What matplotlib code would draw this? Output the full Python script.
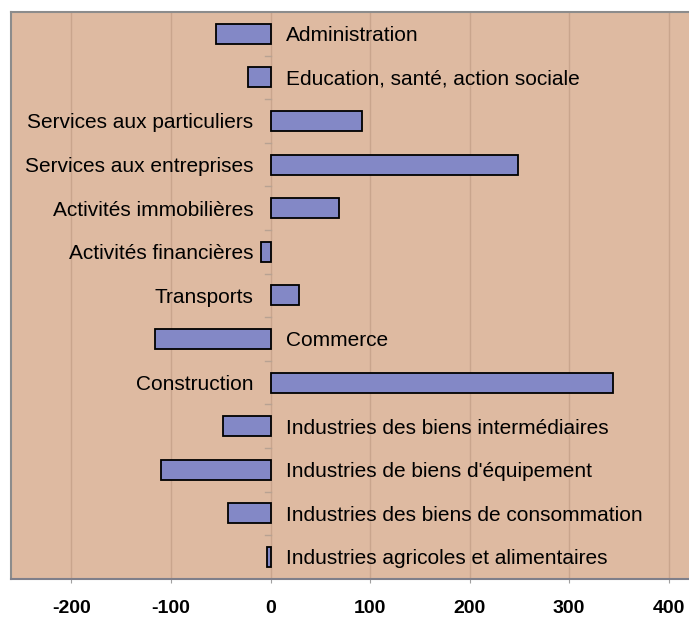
import matplotlib
matplotlib.use("Agg")
import matplotlib.pyplot as plt
import numpy as np

plt.rcParams['font.family'] = ['Liberation Sans', 'DejaVu Sans']

# secteurs, du bas vers le haut
secteurs = ["Industries agricoles et alimentaires",
            "Industries des biens de consommation",
            "Industries de biens d'équipement",
            "Industries des biens intermédiaires",
            "Construction",
            "Commerce",
            "Transports",
            "Activités financières",
            "Activités immobilières",
            "Services aux entreprises",
            "Services aux particuliers",
            "Education, santé, action sociale",
            "Administration"]
valeurs = [-4, -43, -110, -48, 344, -116, 29, -10, 69, 249, 92, -23, -55]
x_ticks = [-200, -100, 0, 100, 200, 300, 400]

fond = '#DEBAA1'
barre = '#8388C6'

fig = plt.figure(figsize=(6.89, 6.21), dpi=100)
ax = fig.add_axes([0.0155, 0.068, 0.984, 0.9127])
ax.set_facecolor(fond)

y = np.arange(len(secteurs))
ax.barh(y, valeurs, height=0.46, color=barre, edgecolor='black', linewidth=1.3, zorder=3)

ax.set_xlim(-261, 420)
ax.set_ylim(-0.5, len(secteurs) - 0.5)

for xv in x_ticks:
    ax.axvline(xv, color='#C9A58D', linewidth=1, zorder=1)

# petites marques de l'axe des categories
for b in np.arange(-0.5, len(secteurs) + 0.5, 1.0)[1:-1]:
    ax.plot([-6, 0], [b, b], color='#B8A292', linewidth=1, zorder=2)

# etiquettes : a gauche pour les valeurs positives, a droite sinon
for i, (nom, v) in enumerate(zip(secteurs, valeurs)):
    if v > 0 or nom == "Activités financières":
        ax.text(-17, i, nom, ha='right', va='center_baseline', fontsize=15, zorder=4)
    else:
        ax.text(16, i, nom, ha='left', va='center_baseline', fontsize=15, zorder=4)

ax.set_yticks([])
ax.set_xticks(x_ticks)
ax.set_xticklabels([str(t) for t in x_ticks], fontsize=14, fontweight='bold')
ax.tick_params(axis='x', length=3, color='#A0A0A0', pad=12)

ax.spines['right'].set_visible(False)
ax.spines['top'].set_color('#8C8C8C')
ax.spines['left'].set_color('#8C8C8C')
ax.spines['bottom'].set_color('#7F7F8A')
for s in ['top', 'left', 'bottom']:
    ax.spines[s].set_linewidth(1.5)

fig.savefig('out.png', dpi=100, facecolor='white')
